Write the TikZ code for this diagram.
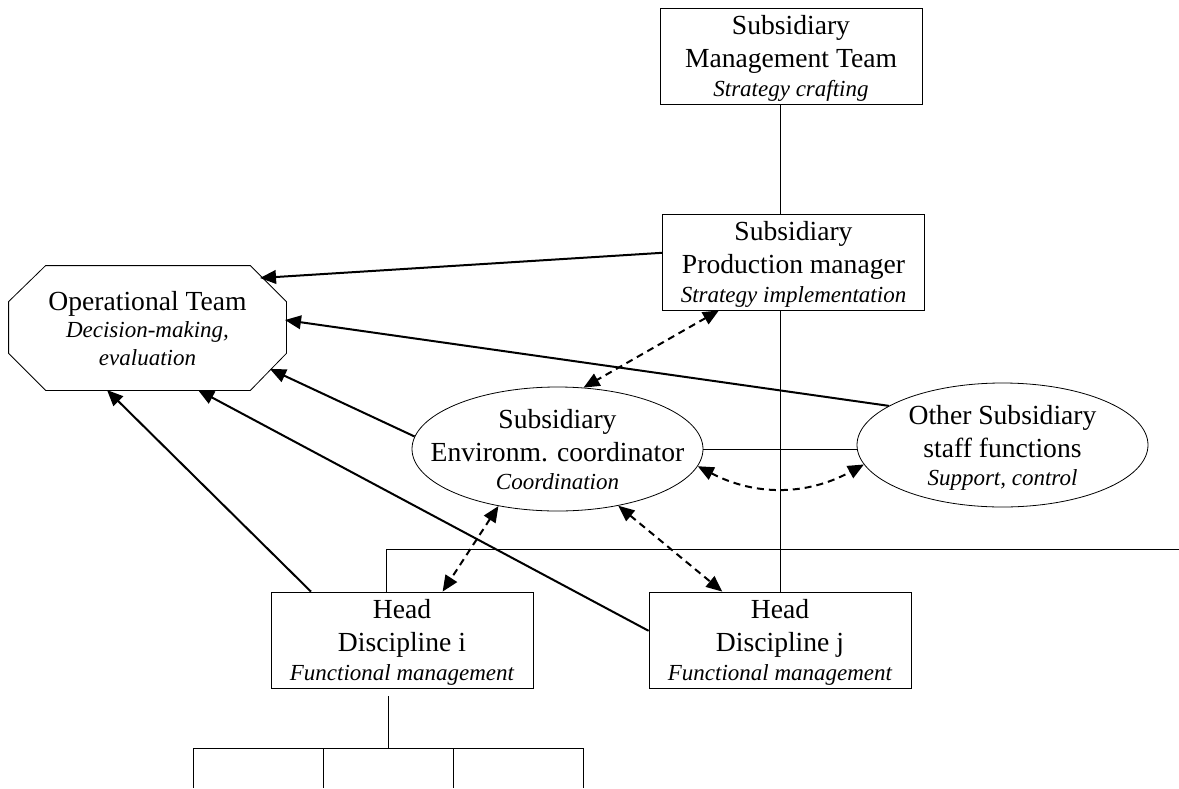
\documentclass[tikz,border=0pt]{standalone}
\usepackage{fontspec}
\setmainfont{Liberation Serif}
\usetikzlibrary{shapes.geometric,arrows.meta,calc}
\newcommand{\role}[1]{{\fontsize{11.5}{14}\selectfont\itshape #1}}

\begin{document}
\begin{tikzpicture}[x=0.5pt,y=-0.5pt,
  unit/.style={rectangle, draw, fill=white, minimum width=131pt, minimum height=48pt, inner sep=2pt, align=center, text depth=0pt, font=\fontsize{13.8}{16.5}\selectfont},
  oval/.style={ellipse, draw, fill=white, minimum width=145.5pt, minimum height=62pt, inner sep=0pt},
  lbl/.style={align=center, inner sep=0pt, text depth=0pt, font=\fontsize{13.8}{16.5}\selectfont},
  octo/.style={rectangle, minimum width=138.5pt, minimum height=62pt, inner sep=0pt, align=center, text depth=0pt, font=\fontsize{13.8}{16.5}\selectfont},
  arr/.style={-{Triangle[length=8pt,width=6.8pt]}, line width=1pt},
  darr/.style={{Triangle[length=8pt,width=6.8pt]}-{Triangle[length=8pt,width=6.8pt]}, line width=1pt, dash pattern=on 3.5pt off 2.5pt},
  link/.style={line width=0.5pt}
]
  \useasboundingbox (0,0) rectangle (1179,788);

  \node[unit] (mgmt) at (791,56) {Subsidiary\\Management Team\\[-2pt]\role{Strategy crafting}};
  \node[unit] (prod) at (793.5,262) {Subsidiary\\Production manager\\[-2pt]\role{Strategy implementation}};
  \node[octo] (ops) at (147.5,328) {Operational Team\\[-3pt]\role{Decision-making,}\\[-2.5pt]\role{evaluation}};
  \node[oval] (env) at (557.5,449) {};
  \node[lbl] (envtxt) at (env) {Subsidiary\\Environm. coordinator\\[-2.5pt]\role{Coordination}};
  \node[oval] (other) at (1002.5,445) {};
  \node[lbl] (othertxt) at (other) {Other Subsidiary\\staff functions\\[-2.5pt]\role{Support, control}};
  \node[unit] (headi) at (402,640) {Head\\Discipline i\\[-2pt]\role{Functional management}};
  \node[unit] (headj) at (780,640) {Head\\Discipline j\\[-2pt]\role{Functional management}};

  % octagon outline of the operational team
  \draw ($(ops.north west)+(37,0)$) -- ($(ops.north east)+(-36,0)$) -- ($(ops.north east)+(0,36)$)
    -- ($(ops.south east)+(0,-37)$) -- ($(ops.south east)+(-36,0)$) -- ($(ops.south west)+(37,0)$)
    -- ($(ops.south west)+(0,-37)$) -- ($(ops.north west)+(0,36)$) -- cycle;

  % hierarchy lines
  \draw[link] (mgmt.south -| headj.north) -- (prod.north -| headj.north);
  \draw[link] (prod.south -| headj.north) -- (headj.north);
  \draw[link] (env.east) -- (env.east -| other.west);
  \coordinate (busend) at (1179,549);
  \draw[link] ($(headi.north)+(-16,0)$) |- (busend);
  \coordinate (teams) at (388,748);
  \draw[link] ($(headi.south)+(-14,8)$) -- (teams);
  \draw[link] (193,748) -- (583,748);
  \foreach \x in {193,323,453,583}
    \draw[link] (\x,748) -- (\x,788);

  % reporting to the operational team
  \draw[arr] (prod.176) -- ($(ops)+(112.5,-50)$);
  \draw[arr] (other.161) -- ($(ops)+(137.5,-8)$);
  \draw[arr] (env.175) -- ($(ops)+(122.5,41)$);
  \draw[arr] (headj.176) -- ($(ops)+(50.5,62)$);
  \draw[arr] (headi.152) -- ($(ops)+(-40.5,62)$);

  % coordination
  \draw[darr] (prod.213) -- (env.67);
  \draw[darr] (env.353) to[bend right=28] (other.188);
  \draw[darr] (env.224) -- (headi.50);
  \draw[darr] (env.317) -- (headj.140);
\end{tikzpicture}
\end{document}
